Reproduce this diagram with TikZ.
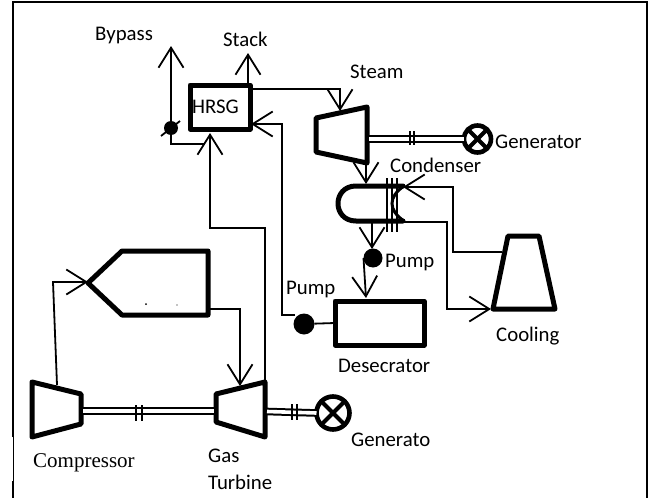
\documentclass[tikz,border=0pt]{standalone}
\usepackage{fontspec}
\setmainfont{Carlito}
\newfontfamily\timesfont{Liberation Serif}
\usetikzlibrary{arrows.meta}
\tikzset{
  heavy/.style={line width=5pt,line join=round,line cap=round},
  thin line/.style={line width=1.8pt},
  flow/.style={line width=1.8pt,-{Straight Barb[length=20pt,width=25pt]}},
  shaft/.style={line width=2pt,double,double distance=3.6pt},
  unitbox/.style={draw,heavy,rectangle,outer sep=0pt,inner sep=0pt},
  pumpdot/.style={circle,fill=black,inner sep=0pt,outer sep=0pt},
  genring/.style={draw,line width=4.6pt,circle,inner sep=0pt,outer sep=0pt},
  tag/.style={anchor=base west,inner sep=0pt,font=\fontsize{20.8}{24}\selectfont},
}
\begin{document}
\begin{tikzpicture}[x=1pt,y=-1pt]
  \useasboundingbox (0,0) rectangle (649,498);
  % frame
  \draw[line width=2pt] (13,437) -- (13,2) -- (647,2) -- (647,498);
  \draw[line width=1pt] (13,437) -- (13,481);
  \draw[line width=2pt] (13,481) -- (13,498);
  % units
  \node[unitbox,minimum width=60pt,minimum height=44pt] (hrsg) at (220,107) {};
  \node[unitbox,minimum width=89pt,minimum height=44pt] (desecrator) at (379.5,323) {};
  \node[pumpdot,minimum size=21pt] (pumplow) at (304,324) {};
  \node[pumpdot,minimum size=19pt] (pumphigh) at (373,258) {};
  \node[pumpdot,minimum size=14pt] (valve) at (171,128) {};
  \node[genring,minimum size=27pt] (gensteam) at (477.5,139) {};
  \node[genring,minimum size=33pt] (gengas) at (333,413) {};
  \foreach \g in {gensteam,gengas} {
    \draw[line width=4pt] (\g.45) -- (\g.225);
    \draw[line width=4pt] (\g.135) -- (\g.315);
  }
  % turbines, compressor, combustor, cooling tower
  \draw[heavy] (316,118) -- (367,107) -- (367,163) -- (316,152) -- cycle;
  \draw[heavy] (32,382) -- (81,394) -- (81,424) -- (32,437) -- cycle;
  \draw[heavy] (216,394) -- (265,382) -- (265,437) -- (216,422) -- cycle;
  \draw[heavy] (88,283) -- (122,251) -- (208,251) -- (208,315) -- (122,315) -- cycle;
  \draw[heavy] (508,236) -- (539,236) -- (555,309) -- (493,309) -- cycle;
  \fill (146,304) circle (1);
  \fill (177,305) circle (0.7);
  % condenser
  \draw[heavy] (403,186) -- (356,186) .. controls (332,186) and (332,221) .. (356,221) -- (403,221);
  \draw[line width=3pt] (404,186) .. controls (388,197) and (388,210) .. (404,221);
  \foreach \x in {387,392,397} {
    \draw[thin line] (\x,178) -- (\x,232);
  }
  % ports
  \coordinate (steamin) at (340,111);
  \coordinate (steamout) at (366,164);
  \coordinate (condtop) at (366,184);
  \coordinate (condbot) at (372,222);
  \coordinate (condin) at (403,187);
  \coordinate (condout) at (405,222);
  \coordinate (towerin) at (491,309);
  \coordinate (towerout) at (502,252);
  \coordinate (compout) at (57,385);
  \coordinate (combin) at (88,282);
  \coordinate (combout) at (210,309);
  \coordinate (gtin) at (240,386);
  \coordinate (gtout) at (265,382);
  \coordinate (bypasstop) at (171,46);
  \coordinate (stacktop) at (248,53);
  \coordinate (hrsgout) at (252,89);
  \coordinate (hrsgin) at (251,124);
  \coordinate (hrsgbot) at (210,133);
  \coordinate (returnbend) at (295,315);
  % shafts
  \draw[shaft] (369,139) -- (gensteam.west);
  \draw[shaft] (83,411) -- (214,411);
  \draw[shaft] (267,411.5) -- (gengas.west);
  \foreach \x/\yt/\yb in {410/131/145, 414/131/145, 136/405/421, 142/405/421, 292/404/420, 297/404/420} {
    \draw[thin line] (\x,\yt) -- (\x,\yb);
  }
  % connectors
  \draw[flow] (valve) -- (bypasstop);
  \draw[thin line] (valve.center) -- (171,144) -- (205,144);
  \draw[thin line] (161,136) -- (180,121);
  \draw[flow] (gtout) -- (265,228) -- (210,228) -- (hrsgbot);
  \draw[flow] (stacktop |- hrsg.north) -- (stacktop);
  \draw[flow] (hrsgout) -- (340,89) -- (steamin);
  \draw[flow] (steamout) -- (condtop);
  \draw[flow] (condbot) -- (372,249);
  \draw[flow] (pumphigh.west) -- (366,298);
  \draw[thin line] (pumplow) -- (desecrator.west);
  \draw[flow] (returnbend) -- (282,315) -- (282,124) -- (hrsgin);
  \draw[flow] (towerout) -- (453,252) -- (453,187) -- (condin);
  \draw[flow] (condout) -- (447,222) -- (447,309) -- (towerin);
  \draw[flow] (compout) -- (53,282) -- (combin);
  \draw[flow] (combout) -- (240,309) -- (gtin);
  % labels
  \node[tag] (bypasslabel) at (95,40) {Bypass};
  \node[tag] (stacklabel) at (223,46) {Stack};
  \node[tag] (hrsglabel) at (192,113) {HRSG};
  \node[tag] (steamlabel) at (350,78) {Steam};
  \node[tag] (genlabel) at (495,148) {Generator};
  \node[tag] (condlabel) at (390,172) {Condenser};
  \node[tag] (pumphighlabel) at (385,267) {Pump};
  \node[tag] (pumplowlabel) at (286,294) {Pump};
  \node[tag] (deslabel) at (338,372) {Desecrator};
  \node[tag] (coolinglabel) at (496,341) {Cooling};
  \node[tag,font=\timesfont\fontsize{21}{24}\selectfont] (complabel) at (33,467) {Compressor};
  \node[tag] (gaslabel) at (208,462) {Gas};
  \node[tag] (turbinelabel) at (208,489) {Turbine};
  \node[tag] (gengaslabel) at (351,446) {Generato};
\end{tikzpicture}
\end{document}
